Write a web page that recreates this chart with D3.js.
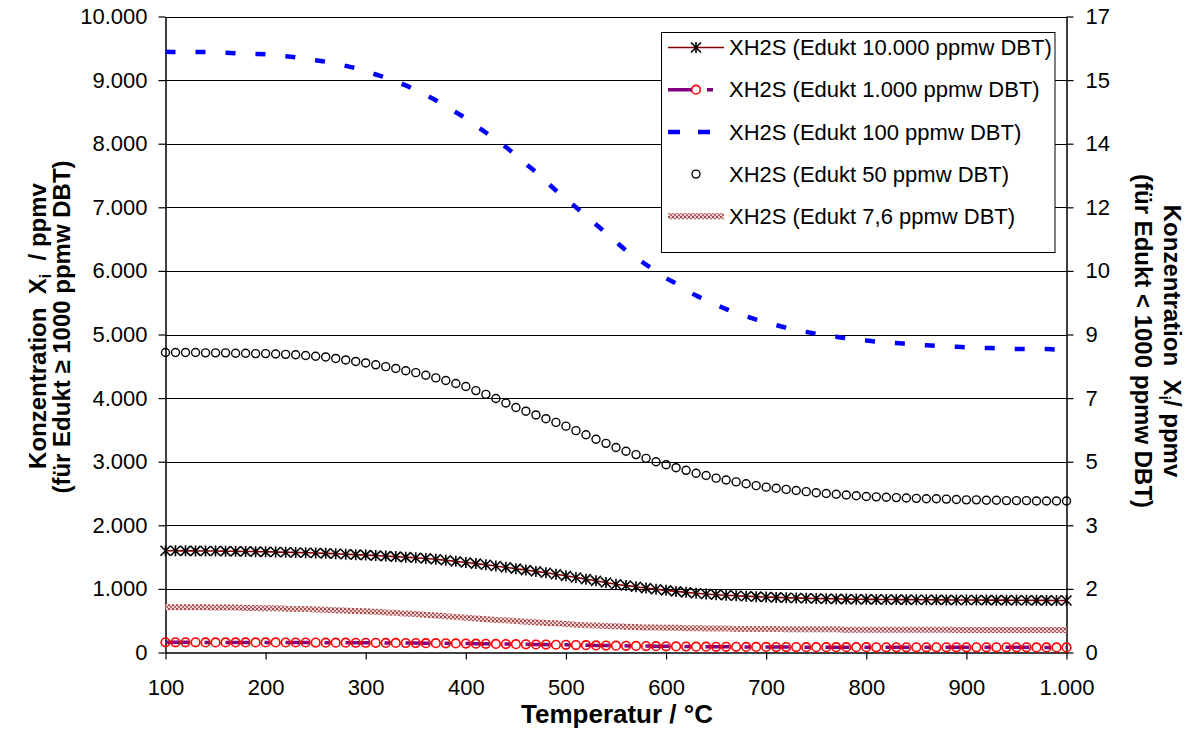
<!DOCTYPE html>
<html>
<head>
<meta charset="utf-8">
<script src="https://cdn.jsdelivr.net/npm/d3@7"></script>
<style>
  html, body { margin: 0; padding: 0; background: #fff; }
  svg { display: block; font-family: "Liberation Sans", Arial, sans-serif; }
</style>
</head>
<body>
<svg id="chart" width="1195" height="729"></svg>
<script>
// Temperature grid (°C)
const temperature = [
  100,110,120,130,140,150,160,170,180,190,
  200,210,220,230,240,250,260,270,280,290,
  300,310,320,330,340,350,360,370,380,390,
  400,410,420,430,440,450,460,470,480,490,
  500,510,520,530,540,550,560,570,580,590,
  600,610,620,630,640,650,660,670,680,690,
  700,710,720,730,740,750,760,770,780,790,
  800,810,820,830,840,850,860,870,880,890,
  900,910,920,930,940,950,960,970,980,990,1000
];

// XH2S in ppmv, feed 10.000 ppmw DBT (left axis)
const xh2s10000 = [
  1600,1599,1598,1597,1596,1595,1593,1591,1589,1586,
  1583,1580,1577,1573,1569,1565,1559,1552,1545,1538,
  1532,1524,1516,1508,1499,1490,1479,1466,1450,1433,
  1415,1398,1380,1360,1339,1318,1296,1275,1253,1230,
  1205,1180,1153,1127,1100,1074,1053,1033,1013,995,
  977,961,946,932,920,909,900,892,885,878,
  872,866,861,857,853,849,846,843,840,838,
  836,835,833,832,831,830,829,828,827,826,
  825,825,824,823,823,822,821,820,819,818,817
];

// XH2S in ppmv, feed 1.000 ppmw DBT (left axis)
const xh2s1000 = [
  160,160,160,160,159,159,159,159,159,158,
  158,158,157,157,157,156,155,155,154,153,
  153,152,151,150,149,148,147,146,144,142,
  141,139,137,135,133,131,129,126,124,122,
  120,117,115,112,109,107,105,103,101,99,
  97,96,94,92,91,90,89,89,88,87,
  87,86,85,85,84,84,84,83,83,83,
  83,82,82,82,82,82,82,82,81,81,
  81,81,81,81,81,81,81,80,80,80,80
];

// XH2S in ppmv, feed 100 ppmw DBT (right axis)
const xh2s100 = [
  16.06,16.05,16.05,16.05,16.05,16.04,16.03,16.02,16.01,16.00,
  15.99,15.96,15.94,15.91,15.87,15.83,15.79,15.74,15.68,15.62,
  15.54,15.45,15.37,15.27,15.16,15.03,14.90,14.76,14.60,14.44,
  14.28,14.08,13.90,13.70,13.51,13.29,13.06,12.84,12.59,12.35,
  12.12,11.90,11.67,11.44,11.22,10.98,10.75,10.56,10.37,10.19,
  10.01,9.86,9.69,9.54,9.42,9.30,9.18,9.08,8.99,8.90,
  8.82,8.75,8.68,8.62,8.57,8.52,8.47,8.44,8.40,8.36,
  8.34,8.31,8.28,8.27,8.25,8.23,8.21,8.20,8.18,8.17,
  8.16,8.15,8.14,8.13,8.12,8.11,8.11,8.11,8.11,8.10,8.10
];

// XH2S in ppmv, feed 50 ppmw DBT (right axis)
const xh2s50 = [
  8.02,8.02,8.02,8.02,8.01,8.01,8.01,8.00,8.00,7.99,
  7.99,7.98,7.97,7.96,7.94,7.92,7.90,7.86,7.82,7.78,
  7.74,7.69,7.64,7.59,7.53,7.48,7.41,7.34,7.27,7.19,
  7.11,7.00,6.90,6.79,6.67,6.55,6.45,6.35,6.25,6.15,
  6.05,5.93,5.82,5.70,5.59,5.48,5.38,5.29,5.19,5.10,
  5.02,4.94,4.87,4.79,4.73,4.66,4.61,4.56,4.51,4.46,
  4.42,4.39,4.36,4.33,4.30,4.27,4.25,4.23,4.21,4.19,
  4.17,4.16,4.15,4.14,4.13,4.12,4.11,4.11,4.10,4.09,
  4.08,4.08,4.07,4.07,4.06,4.06,4.06,4.05,4.05,4.05,4.05
];

// XH2S in ppmv, feed 7,6 ppmw DBT (right axis)
const xh2s7_6 = [
  1.21,1.21,1.21,1.21,1.21,1.20,1.20,1.20,1.19,1.19,
  1.18,1.18,1.17,1.16,1.16,1.15,1.14,1.13,1.12,1.11,
  1.10,1.09,1.07,1.06,1.04,1.03,1.01,0.99,0.97,0.95,
  0.93,0.91,0.89,0.87,0.86,0.84,0.82,0.81,0.79,0.78,
  0.76,0.74,0.73,0.72,0.71,0.70,0.69,0.68,0.67,0.67,
  0.66,0.66,0.65,0.65,0.64,0.64,0.64,0.63,0.63,0.63,
  0.63,0.63,0.62,0.62,0.62,0.62,0.62,0.62,0.61,0.61,
  0.61,0.61,0.61,0.61,0.61,0.61,0.61,0.61,0.61,0.60,
  0.60,0.60,0.60,0.60,0.60,0.60,0.60,0.60,0.60,0.60,0.60
];

// Axis ticks
const xTicks = [100,200,300,400,500,600,700,800,900,1000];
const leftTicks = [0,1000,2000,3000,4000,5000,6000,7000,8000,9000,10000];
const rightTicks = [0,1.7,3.4,5.1,6.8,8.5,10.2,11.9,13.6,15.3,17];
const rightTickLabels = ["0","2","3","5","7","9","10","12","14","15","17"];

// Legend entries
const legendLabels = [
  "XH2S (Edukt 10.000 ppmw DBT)",
  "XH2S (Edukt 1.000 ppmw DBT)",
  "XH2S (Edukt 100 ppmw DBT)",
  "XH2S (Edukt 50 ppmw DBT)",
  "XH2S (Edukt 7,6 ppmw DBT)"
];

const de = d3.formatLocale({decimal: ",", thousands: ".", grouping: [3], currency: ["", " €"]});
const fmtInt = de.format(",d");

const svg = d3.select("#chart");
const plotLeft = 165.5, plotRight = 1066.5, plotTop = 16.5, plotBottom = 652.5;

const x = d3.scaleLinear().domain([100, 1000]).range([plotLeft, plotRight]);
const yL = d3.scaleLinear().domain([0, 10000]).range([plotBottom, plotTop]);
const yR = d3.scaleLinear().domain([0, 17]).range([plotBottom, plotTop]);

// hatched fill for the 7,6 ppmw curve
const defs = svg.append("defs");
const pat = defs.append("pattern")
  .attr("id", "hatch76").attr("patternUnits", "userSpaceOnUse")
  .attr("width", 4).attr("height", 4);
pat.append("rect").attr("width", 4).attr("height", 4).attr("fill", "#ecd2d2");
pat.append("rect").attr("width", 2).attr("height", 2).attr("fill", "#a64a4a");
pat.append("rect").attr("x", 2).attr("y", 2).attr("width", 2).attr("height", 2).attr("fill", "#b86a6a");

// horizontal gridlines
svg.append("g").selectAll("line")
  .data(leftTicks.filter(d => d > 0))
  .join("line")
  .attr("x1", plotLeft).attr("x2", plotRight)
  .attr("y1", d => Math.round(yL(d)) + 0.5)
  .attr("y2", d => Math.round(yL(d)) + 0.5)
  .attr("stroke", "#000").attr("stroke-width", 1);

// axes
function styleAxis(g, size) {
  g.select(".domain").attr("stroke", "#000").attr("stroke-width", 1.5);
  g.selectAll(".tick line").attr("stroke", "#000").attr("stroke-width", 1.2);
  g.selectAll("text").attr("font-size", size).attr("fill", "#000")
    .attr("font-family", "'Liberation Sans', Arial, sans-serif");
}

svg.append("g")
  .attr("transform", `translate(${plotLeft},0)`)
  .call(d3.axisLeft(yL).tickValues(leftTicks).tickFormat(fmtInt).tickSize(7).tickSizeOuter(0).tickPadding(11))
  .call(g => styleAxis(g, 22));

svg.append("g")
  .attr("transform", `translate(${plotRight},0)`)
  .call(d3.axisRight(yR).tickValues(rightTicks)
        .tickFormat((d, i) => rightTickLabels[i]).tickSize(7).tickSizeOuter(0).tickPadding(12))
  .call(g => styleAxis(g, 22));

svg.append("g")
  .attr("transform", `translate(0,${plotBottom})`)
  .call(d3.axisBottom(x).tickValues(xTicks).tickFormat(fmtInt).tickSize(7).tickSizeOuter(0).tickPadding(20))
  .call(g => styleAxis(g, 22));

// axis titles
svg.append("text")
  .attr("x", (plotLeft + plotRight) / 2 + 1).attr("y", 723)
  .attr("text-anchor", "middle").attr("font-size", 26).attr("font-weight", "bold")
  .text("Temperatur / °C");

const lt1 = svg.append("text")
  .attr("transform", "translate(46,326) rotate(-90)")
  .attr("text-anchor", "middle").attr("font-size", 24).attr("font-weight", "bold");
lt1.append("tspan").text("Konzentration\u00a0\u00a0X");
lt1.append("tspan").attr("font-size", 16).attr("dy", 5).text("i");
lt1.append("tspan").attr("dy", -5).text("\u00a0\u00a0/ ppmv");
svg.append("text")
  .attr("transform", "translate(70,327) rotate(-90)")
  .attr("text-anchor", "middle").attr("font-size", 24).attr("font-weight", "bold")
  .text("(für Edukt ≥ 1000 ppmw DBT)");

const rt1 = svg.append("text")
  .attr("transform", "translate(1164,341) rotate(90)")
  .attr("text-anchor", "middle").attr("font-size", 24).attr("font-weight", "bold");
rt1.append("tspan").text("Konzentration\u00a0\u00a0X");
rt1.append("tspan").attr("font-size", 16).attr("dy", 5).text("i");
rt1.append("tspan").attr("dy", -5).text("/ ppmv");
svg.append("text")
  .attr("transform", "translate(1135,341) rotate(90)")
  .attr("text-anchor", "middle").attr("font-size", 24).attr("font-weight", "bold")
  .text("(für Edukt < 1000 ppmw DBT)");

// series
const starPath = "M-5,-5L5,5M-5,5L5,-5M0,-5.5L0,5.5";
const series = [
  {values: xh2s10000, y: yL, stroke: "#800000", width: 1.6, dash: null, marker: "star"},
  {values: xh2s1000, y: yL, stroke: "#800080", width: 3.5, dash: "24 15 6 15", marker: "redcircle"},
  {values: xh2s100, y: yR, stroke: "#0000ff", width: 4.5, dash: "10 20", marker: null},
  {values: xh2s50, y: yR, stroke: null, width: 0, dash: null, marker: "circle"},
  {values: xh2s7_6, y: yR, stroke: "url(#hatch76)", width: 6, dash: null, marker: null}
];

function drawMarker(g, kind, cx, cy) {
  if (kind === "star") {
    g.append("path").attr("d", starPath).attr("transform", `translate(${cx},${cy})`)
      .attr("stroke", "#000").attr("stroke-width", 1.6).attr("fill", "none");
  } else if (kind === "redcircle") {
    g.append("circle").attr("cx", cx).attr("cy", cy).attr("r", 4.3)
      .attr("stroke", "#ff0000").attr("stroke-width", 1.6).attr("fill", "none");
  } else if (kind === "circle") {
    g.append("circle").attr("cx", cx).attr("cy", cy).attr("r", 4)
      .attr("stroke", "#000").attr("stroke-width", 1.4).attr("fill", "none");
  }
}

series.forEach(s => {
  const pts = temperature.map((t, i) => [x(t), s.y(s.values[i])]);
  const g = svg.append("g");
  if (s.stroke) {
    g.append("path")
      .attr("d", d3.line().curve(d3.curveMonotoneX)(pts))
      .attr("fill", "none").attr("stroke", s.stroke).attr("stroke-width", s.width)
      .attr("stroke-dasharray", s.dash);
  }
  if (s.marker) pts.forEach(p => drawMarker(g, s.marker, p[0], p[1]));
});

// legend
const lg = svg.append("g");
lg.append("rect").attr("x", 661.5).attr("y", 32.5).attr("width", 393.5).attr("height", 220)
  .attr("fill", "#fff").attr("stroke", "#000").attr("stroke-width", 1);
legendLabels.forEach((lab, i) => {
  const s = series[i];
  const cy = 47.5 + i * 42.2;
  const row = lg.append("g");
  if (s.stroke) {
    row.append("line").attr("x1", 668).attr("x2", 724).attr("y1", cy).attr("y2", cy)
      .attr("stroke", s.stroke).attr("stroke-width", s.width)
      .attr("stroke-dasharray", i === 2 ? "12 18" : s.dash);
  }
  if (s.marker) drawMarker(row, s.marker, 696, cy);
  row.append("text").attr("x", 729).attr("y", cy).attr("dy", "0.35em")
    .attr("font-size", 22).attr("fill", "#000").text(lab);
});
</script>
</body>
</html>
